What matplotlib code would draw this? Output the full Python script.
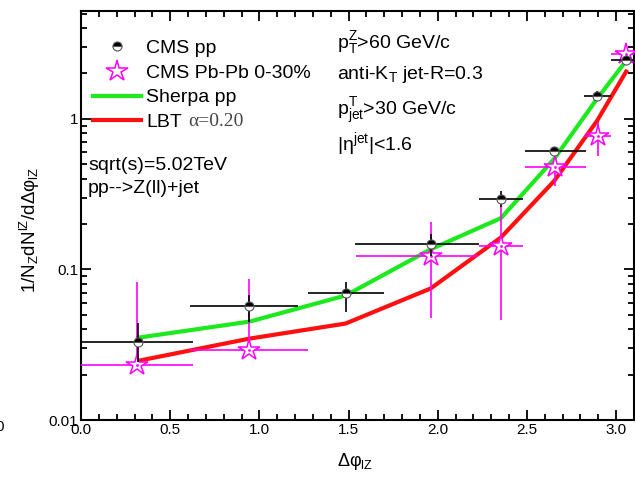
import numpy as np
import matplotlib.pyplot as plt
from matplotlib.lines import Line2D
from matplotlib.ticker import MultipleLocator, LogLocator, FuncFormatter, NullFormatter

plt.rcParams['font.family'] = ['Liberation Sans', 'DejaVu Sans']
plt.rcParams['mathtext.fontset'] = 'custom'
plt.rcParams['mathtext.rm'] = 'Liberation Sans'
plt.rcParams['mathtext.it'] = 'Liberation Sans:italic'
plt.rcParams['mathtext.bf'] = 'Liberation Sans:bold'

# CMS pp data (bin centres, bin edges, value, error band)
pp_x = [0.32, 0.944, 1.483, 1.96, 2.354, 2.652, 2.893, 3.056]
pp_xlo = [0.0, 0.612, 1.275, 1.534, 2.23, 2.489, 2.82, 2.972]
pp_xhi = [0.628, 1.219, 1.697, 2.23, 2.478, 2.831, 2.972, 3.14]
pp_y = [0.0331, 0.0569, 0.0692, 0.147, 0.293, 0.612, 1.42, 2.45]
pp_ylo = [0.0243, 0.045, 0.0525, 0.122, 0.259, 0.567, 1.32, 2.33]
pp_yhi = [0.0443, 0.0681, 0.082, 0.171, 0.331, 0.65, 1.52, 2.58]

# CMS Pb-Pb 0-30%
pb_x = [0.315, 0.944, 1.96, 2.354, 2.657, 2.899, 3.056]
pb_xlo = [0.0, 0.612, 1.539, 2.23, 2.489, 2.82, 2.972]
pb_xhi = [0.629, 1.275, 2.225, 2.478, 2.831, 2.972, 3.14]
pb_y = [0.0233, 0.0293, 0.122, 0.142, 0.479, 0.770, 2.70]
pb_ylo = [0.0215, 0.027, 0.0479, 0.0464, 0.357, 0.567, 2.5]
pb_yhi = [0.082, 0.0858, 0.206, 0.263, 0.567, 0.955, 2.95]

# model curves
model_x = [0.32, 0.944, 1.483, 1.96, 2.354, 2.652, 2.893, 3.056]
sherpa_y = [0.0352, 0.045, 0.0671, 0.136, 0.219, 0.541, 1.36, 2.43]
lbt_y = [0.0247, 0.0347, 0.0437, 0.0747, 0.163, 0.386, 0.97, 2.06]

green = '#1ee81e'
red = '#ff1010'
magenta = '#ff00ff'

fig = plt.figure(figsize=(6.35, 4.79), dpi=100)
ax = fig.add_axes([81/635, 59/479, 553/635, 409/479])

ax.plot(model_x, sherpa_y, color=green, lw=3, zorder=2)
ax.plot(model_x, lbt_y, color=red, lw=3, zorder=2)

def errs(c, lo, hi):
    c = np.array(c); lo = np.array(lo); hi = np.array(hi)
    return np.vstack([c - lo, hi - c])

ax.errorbar(pp_x, pp_y, xerr=errs(pp_x, pp_xlo, pp_xhi), yerr=errs(pp_y, pp_ylo, pp_yhi),
            fmt='o', ms=6.5, fillstyle='top', mfc='black', markerfacecoloralt='white',
            mec='#555555', mew=0.8, ecolor='black', elinewidth=1.2, capsize=0, zorder=4)
ax.errorbar(pb_x, pb_y, xerr=errs(pb_x, pb_xlo, pb_xhi), yerr=errs(pb_y, pb_ylo, pb_yhi),
            fmt='*', ms=16, mfc='white', mec=magenta, mew=1.1, ecolor=magenta,
            elinewidth=1.2, capsize=0, zorder=3)
ax.plot(pb_x, pb_y, ls='none', marker='.', ms=2, color=magenta, zorder=3.5)

ax.set_yscale('log')
ax.set_ylim(0.01, 5.2)
ax.set_xlim(0, 3.1)

ax.xaxis.set_major_locator(MultipleLocator(0.5))
ax.xaxis.set_minor_locator(MultipleLocator(0.1))
ax.xaxis.set_major_formatter(FuncFormatter(lambda v, p: f'{v:.1f}'))
ax.yaxis.set_major_locator(LogLocator(base=10))
ax.yaxis.set_minor_locator(LogLocator(base=10, subs=np.arange(2, 10)))
ax.yaxis.set_major_formatter(FuncFormatter(lambda v, p: f'{v:g}'))
ax.yaxis.set_minor_formatter(NullFormatter())
ax.tick_params(which='both', direction='in', top=True, right=True, width=1.3, labelsize=11)
ax.tick_params(which='major', length=7, pad=2)
ax.tick_params(which='minor', length=4)
for s in ax.spines.values():
    s.set_linewidth(1.5)

handles = [
    Line2D([], [], ls='none', marker='o', ms=6.5, fillstyle='top', mfc='black',
           markerfacecoloralt='white', mec='#555555', mew=0.8),
    Line2D([], [], ls='none', marker='*', ms=16, mfc='white', mec=magenta, mew=1.1),
    Line2D([], [], color=green, lw=3),
    Line2D([], [], color=red, lw=3),
]
labels = ['CMS pp', 'CMS Pb-Pb 0-30%', 'Sherpa pp', 'LBT']
leg = ax.legend(handles, labels, loc='upper left', bbox_to_anchor=(0.0217, 0.93),
                frameon=False, fontsize=14, handlelength=2.45, handletextpad=0.3,
                labelspacing=0.36, borderpad=0, borderaxespad=0)
fig.text(188/635, 1 - 126/479, 'α=0.20', family='Liberation Serif',
         fontsize=14, color='#444444', va='baseline')

fig.text(88/635, 1 - 170/479, 'sqrt(s)=5.02TeV', fontsize=14, va='baseline')
fig.text(88/635, 1 - 193/479, 'pp-->Z(ll)+jet', fontsize=14, va='baseline')

fig.text(337/635, 1 - 48/479, r'p$_\mathrm{T}^\mathrm{Z}$>60 GeV/c', fontsize=14, va='baseline')
fig.text(337/635, 1 - 79/479, r'anti-K$_\mathrm{T}$ jet-R=0.3', fontsize=14, va='baseline')
fig.text(337/635, 1 - 115/479, r'p$_\mathrm{jet}^\mathrm{T}$>30 GeV/c', fontsize=14, va='baseline')
fig.text(337/635, 1 - 150/479, r'|η$^\mathrm{jet}$|<1.6', fontsize=14, va='baseline')

fig.text(30/635, 1 - 230/479, r'1/N$_\mathrm{Z}$dN$^\mathrm{lZ}$/dΔφ$_\mathrm{lZ}$',
         rotation=90, ha='center', va='center', fontsize=13.5)
fig.text(355/635, 1 - 461/479, r'Δφ$_\mathrm{lZ}$', ha='center', va='center', fontsize=13)
fig.text(4/635, 1 - 427/479, '0', ha='right', va='center', fontsize=11)

fig.savefig('out.png', dpi=100)
